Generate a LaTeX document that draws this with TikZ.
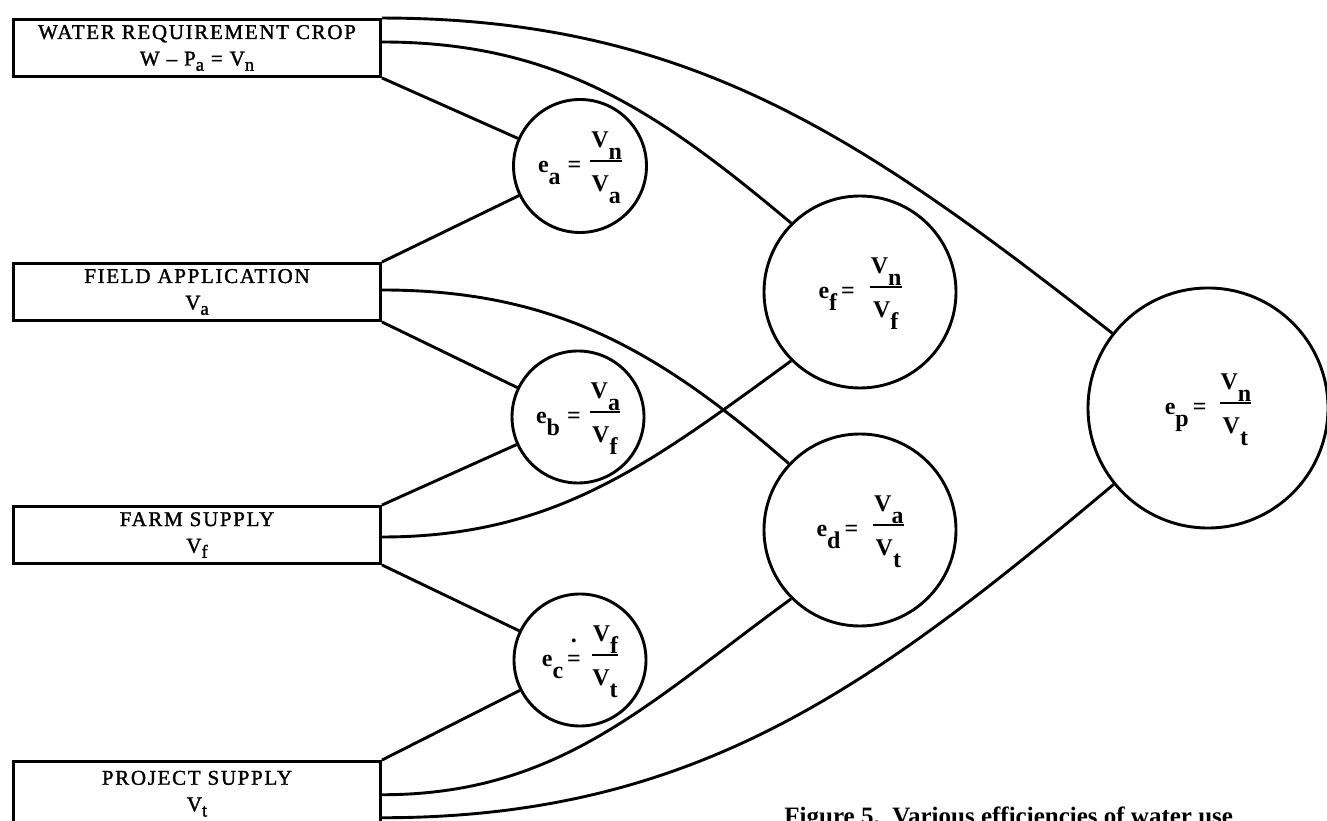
\documentclass[tikz,border=0pt]{standalone}
\usepackage{fontspec}
\setmainfont{Liberation Serif}
\newfontfamily\boxfont[LetterSpace=8,FakeBold=1.5]{Liberation Serif}
\newcommand{\lowsub}[1]{\raisebox{-0.5em}{#1}}
\newcommand{\bsub}[1]{\raisebox{-0.25em}{\fontsize{18.5}{18.5}\selectfont #1}}
\newcommand{\efrac}[2]{$\vcenter{\hbox{\setlength{\arrayrulewidth}{1.7pt}\setlength{\tabcolsep}{0pt}\begin{tabular}{c}\hspace{1pt}#1\\\hline\rule{0pt}{1.25em}#2\end{tabular}}}$}
\newcommand{\dotequal}{\ooalign{=\cr\hidewidth\raisebox{1.0em}{.}\hidewidth\cr}}
\begin{document}
\begin{tikzpicture}[x=1pt,y=1pt,line width=2.9pt,
  box/.style={draw, rectangle, minimum width=367pt, minimum height=57pt, inner sep=0pt, align=center, font=\boxfont\fontsize{21}{26.5}\selectfont},
  eff/.style={draw, circle, inner sep=0pt, font=\fontsize{24}{28}\selectfont\bfseries},
  link/.style={line width=2.9pt}]
\clip (0,0) rectangle (1327,821);
\fill[white] (0,0) rectangle (1327,821);
% boxes
\node[box] (b1) at (197,773) {WATER REQUIREMENT CROP\\W \textendash{} P\bsub{a} = V\bsub{n}};
\node[box] (b2) at (197,529) {FIELD APPLICATION\\V\bsub{a}};
\node[box] (b3) at (197,286) {FARM SUPPLY\\V\bsub{f}};
\node[box, minimum height=64.5pt] (b4) at (197,27.25) {PROJECT SUPPLY\\V\bsub{t}};
% circles
\node[eff, minimum size=133pt] (ea) at (580,655) {e\lowsub{a}\hspace{7pt}=\hspace{9pt}\efrac{V\lowsub{n}}{V\lowsub{a}}};
\node[eff, minimum size=132pt] (eb) at (578,404) {e\lowsub{b}\hspace{7pt}=\hspace{9pt}\efrac{V\lowsub{a}}{V\lowsub{f}}};
\node[eff, minimum size=132pt] (ec) at (580,161) {e\lowsub{c}\hspace{4pt}\dotequal\hspace{11pt}\efrac{V\lowsub{f}}{V\lowsub{t}}};
\node[eff, minimum size=192pt] (ef) at (860,529) {e\lowsub{f}\hspace{4pt}=\hspace{15pt}\efrac{V\lowsub{n}}{V\lowsub{f}}};
\node[eff, minimum size=192pt] (ed) at (860,291) {e\lowsub{d}\hspace{4pt}=\hspace{15pt}\efrac{V\lowsub{a}}{V\lowsub{t}}};
\node[eff, minimum size=240pt] (ep) at (1208,413) {e\lowsub{p}\hspace{4pt}=\hspace{13pt}\efrac{V\lowsub{n}}{V\lowsub{t}}};
% caption
\node[anchor=base west, inner sep=0pt, font=\fontsize{25}{29}\selectfont\bfseries] (cap) at (783,-4) {Figure 5.\ \ Various efficiencies of water use};
% connectors
\draw[link] (b1.north east) to[out=0,in=142] (ep.142);
\draw[link] ([yshift=6pt]b1.east) to[out=0,in=140] (ef.135);
\draw[link] (b1.south east) -- (ea);
\draw[link] (b2.north east) -- (ea);
\draw[link] ([yshift=2pt]b2.east) to[out=0,in=139] (ed.137);
\draw[link] (b2.south east) -- (eb);
\draw[link] (b3.north east) -- (eb);
\draw[link] ([yshift=-2pt]b3.east) to[out=0,in=216] (ef.225);
\draw[link] (b3.south east) -- (ec);
\draw[link] (b4.north east) -- (ec);
\draw[link] ([yshift=-1pt]b4.east) to[out=0,in=216] (ed.225);
\draw[link] ([yshift=-24pt]b4.east) to[out=0,in=220] (ep.219);
\end{tikzpicture}
\end{document}
